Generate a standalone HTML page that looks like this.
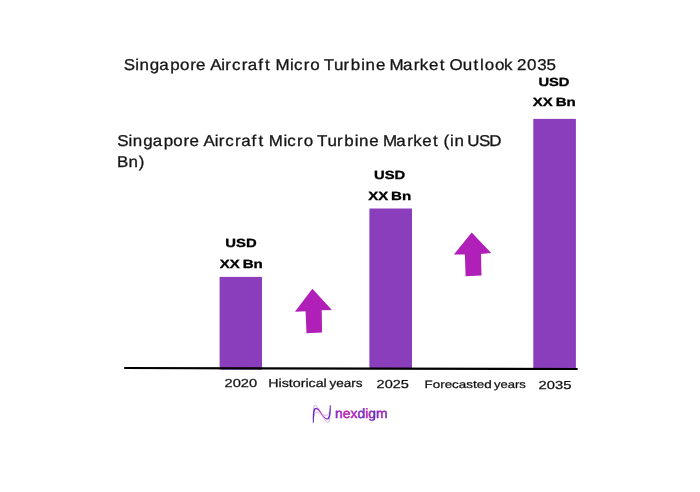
<!DOCTYPE html>
<html lang="en"><head><meta charset="utf-8"><title>Singapore Aircraft Micro Turbine Market Outlook 2035</title>
<style>
html,body{margin:0;padding:0;background:#fff;}
svg{display:block;font-family:"Liberation Sans",sans-serif;}
</style></head>
<body>
<svg width="700" height="492" viewBox="0 0 700 492" text-rendering="geometricPrecision">
<rect width="700" height="492" fill="#fff"/>
<text transform="scale(1.08,1)" x="114.57 125.13 129.15 138.75 147.56 157.64 166.63 176.05 181.54 184.54 194.63 204.90 208.65 214.79 223.74 229.46 239.04 245.38 248.38 255.00 268.61 272.20 281.15 287.28 290.28 299.75 309.24 318.09 324.81 334.58 338.41 348.11 351.11 360.65 373.12 383.09 388.75 397.19 407.14 410.14 416.23 428.45 438.44 444.44 448.86 458.25 466.76 469.76 478.78 488.08 497.56 506.08" y="70.0" font-size="15.7" font-weight="400" fill="#161616" stroke="#161616" stroke-width="0.3">Singapore Aircraft Micro Turbine Market Outlook 2035</text>
<text transform="scale(1.08,1)" x="108.46 119.02 123.04 132.64 141.45 151.53 160.52 169.94 175.43 178.43 188.52 198.79 202.54 208.68 217.63 223.35 232.93 239.27 242.27 248.89 262.50 266.09 275.04 281.17 284.17 293.64 303.13 311.98 318.70 328.47 332.30 342.00 345.00 354.53 367.01 376.98 382.64 391.08 401.03 404.03 410.62 416.62 420.72 423.72 432.69 443.55 453.11" y="146.2" font-size="15.7" font-weight="400" fill="#161616" stroke="#161616" stroke-width="0.3">Singapore Aircraft Micro Turbine Market (in USD</text>
<text transform="scale(1.08,1)" x="108.42 119.06 128.49" y="167.3" font-size="15.7" font-weight="400" fill="#161616" stroke="#161616" stroke-width="0.3">Bn)</text>
<text y="247" font-size="11.9" font-weight="700" fill="#000" stroke="#000" stroke-width="0.3"><tspan x="225.30" textLength="31.31" lengthAdjust="spacingAndGlyphs">USD</tspan></text><text y="268" font-size="11.9" font-weight="700" fill="#000" stroke="#000" stroke-width="0.3"><tspan x="219.80" textLength="19.97" lengthAdjust="spacingAndGlyphs">XX</tspan> <tspan x="242.71" textLength="20.12" lengthAdjust="spacingAndGlyphs">Bn</tspan></text><text y="179" font-size="11.9" font-weight="700" fill="#000" stroke="#000" stroke-width="0.3"><tspan x="374.01" textLength="31.21" lengthAdjust="spacingAndGlyphs">USD</tspan></text><text y="200" font-size="11.9" font-weight="700" fill="#000" stroke="#000" stroke-width="0.3"><tspan x="368.30" textLength="19.88" lengthAdjust="spacingAndGlyphs">XX</tspan> <tspan x="391.10" textLength="20.02" lengthAdjust="spacingAndGlyphs">Bn</tspan></text><text y="86" font-size="11.9" font-weight="700" fill="#000" stroke="#000" stroke-width="0.3"><tspan x="538.41" textLength="31.10" lengthAdjust="spacingAndGlyphs">USD</tspan></text><text y="106" font-size="11.9" font-weight="700" fill="#000" stroke="#000" stroke-width="0.3"><tspan x="532.80" textLength="19.93" lengthAdjust="spacingAndGlyphs">XX</tspan> <tspan x="555.66" textLength="20.07" lengthAdjust="spacingAndGlyphs">Bn</tspan></text>
<rect x="219.6" y="276.9" width="42.4" height="92.8" fill="#8a3ebb"/><rect x="369.4" y="208.5" width="42.6" height="159.9" fill="#8a3ebb"/><rect x="533.3" y="118.9" width="42.6" height="249.3" fill="#8a3ebb"/>
<line x1="124.2" y1="368" x2="577.6" y2="369" stroke="#000" stroke-width="2.2"/>
<polygon points="312.4,288.8 331.9,309.9 321.7,310.3 322.1,332.6 306.5,333.3 305.6,311.3 294.9,311.7" fill="#b01fb8"/><polygon points="471.7,232.4 491.2,253.1 481,253.9 481.5,275.5 465.6,276.2 464.9,254.6 453.9,254.6" fill="#b01fb8"/>
<text y="387" font-size="11.6" font-weight="400" fill="#111" stroke="#111" stroke-width="0.25"><tspan x="224.51" textLength="32.65" lengthAdjust="spacingAndGlyphs">2020</tspan></text><text y="387" font-size="11.6" font-weight="400" fill="#111" stroke="#111" stroke-width="0.25"><tspan x="268.29" textLength="58.45" lengthAdjust="spacingAndGlyphs">Historical</tspan> <tspan x="329.60" textLength="32.92" lengthAdjust="spacingAndGlyphs">years</tspan></text><text y="388" font-size="11.6" font-weight="400" fill="#111" stroke="#111" stroke-width="0.25"><tspan x="376.62" textLength="32.27" lengthAdjust="spacingAndGlyphs">2025</tspan></text><text y="388" font-size="10.8" font-weight="400" fill="#111" stroke="#111" stroke-width="0.25"><tspan x="424.55" textLength="67.10" lengthAdjust="spacingAndGlyphs">Forecasted</tspan> <tspan x="494.00" textLength="31.81" lengthAdjust="spacingAndGlyphs">years</tspan></text><text y="389" font-size="11.6" font-weight="400" fill="#111" stroke="#111" stroke-width="0.25"><tspan x="538.61" textLength="32.79" lengthAdjust="spacingAndGlyphs">2035</tspan></text>

<defs>
<linearGradient id="gt" x1="0" y1="0" x2="1" y2="0"><stop offset="0" stop-color="#8f2cc6"/><stop offset="0.22" stop-color="#c422b4"/><stop offset="0.40" stop-color="#a52cc0"/><stop offset="0.52" stop-color="#6c34c8"/><stop offset="0.62" stop-color="#c628b4"/><stop offset="0.75" stop-color="#5a34c8"/><stop offset="0.86" stop-color="#b428ba"/><stop offset="1" stop-color="#6a30c6"/></linearGradient>
<linearGradient id="gw" gradientUnits="userSpaceOnUse" x1="312" y1="0" x2="331" y2="0"><stop offset="0" stop-color="#5b2bc0"/><stop offset="0.55" stop-color="#c426c0"/><stop offset="1" stop-color="#5b2bc0"/></linearGradient>
<filter id="bl" x="-10%" y="-10%" width="120%" height="120%"><feGaussianBlur stdDeviation="0.3"/></filter>
<filter id="bl2" x="-20%" y="-20%" width="140%" height="140%"><feGaussianBlur stdDeviation="0.4"/></filter>
</defs>
<g fill="none" stroke="url(#gw)" stroke-linecap="round" filter="url(#bl2)">
<path d="M313.65,422.60 L313.73,421.26 L313.82,420.00 L313.91,418.82 L314.00,417.72 L314.08,416.69 L314.15,415.73 L314.22,414.84 L314.31,414.03 L314.39,413.28 L314.49,412.60 L314.60,411.99 L314.71,411.44 L314.83,410.97 L314.96,410.55 L315.09,410.20 L315.22,409.92 L315.36,409.70 L315.47,409.53 L315.57,409.41 L315.67,409.33 L315.76,409.27 L315.87,409.24 L315.97,409.22 L316.37,409.24 L316.76,409.34 L317.17,409.54 L317.61,409.83 L318.07,410.20 L318.54,410.64 L319.03,411.14 L319.51,411.70 L320.01,412.29 L320.50,412.92 L321.00,413.56 L321.50,414.21 L321.96,414.90 L322.41,415.57 L322.86,416.23 L323.33,416.85 L323.81,417.43 L324.30,417.97 L324.81,418.45 L325.34,418.87 L325.92,419.20 L326.54,419.43 L327.18,419.54 L327.65,419.51 L328.08,419.38 L328.47,419.17 L328.82,418.88 L329.13,418.54 L329.38,418.14 L329.60,417.68 L329.79,417.19 L329.95,416.66 L330.10,416.09 L330.22,415.47 L330.34,414.82 L330.43,414.14 L330.52,413.41 L330.59,412.66 L330.63,411.87 L330.66,411.05 L330.68,410.20 L330.70,409.32 L330.70,408.43 L330.69,407.51 L330.67,406.56 L330.65,405.61 L329.95,405.59 L329.90,406.55 L329.84,407.48 L329.77,408.39 L329.70,409.28 L329.62,410.14 L329.53,410.97 L329.43,411.76 L329.33,412.53 L329.23,413.25 L329.13,413.94 L329.01,414.59 L328.88,415.19 L328.74,415.74 L328.59,416.25 L328.43,416.69 L328.26,417.08 L328.08,417.41 L327.92,417.68 L327.77,417.89 L327.63,418.05 L327.50,418.16 L327.36,418.22 L327.22,418.26 L326.78,418.25 L326.34,418.15 L325.88,417.96 L325.40,417.68 L324.91,417.31 L324.43,416.86 L323.94,416.34 L323.46,415.77 L322.97,415.16 L322.48,414.53 L322.01,413.86 L321.59,413.16 L321.16,412.46 L320.73,411.77 L320.29,411.10 L319.85,410.47 L319.39,409.87 L318.91,409.32 L318.40,408.84 L317.86,408.43 L317.29,408.10 L316.66,407.88 L316.03,407.78 L315.63,407.80 L315.26,407.89 L314.91,408.04 L314.59,408.26 L314.30,408.54 L314.05,408.86 L313.85,409.23 L313.68,409.64 L313.52,410.10 L313.39,410.60 L313.27,411.15 L313.17,411.75 L313.08,412.41 L313.01,413.12 L312.94,413.90 L312.89,414.74 L312.85,415.65 L312.81,416.63 L312.80,417.67 L312.82,418.79 L312.86,419.98 L312.90,421.25 L312.95,422.60Z" fill="url(#gw)" stroke="none"/>
<path d="M313.3,422.6 C313.2,410 313.6,405.2 314.9,405.2 C318.5,405.2 324,422.4 328.0,422.4 C330,422.4 330.2,413 330.3,405.6" stroke-width="0.5" opacity="0.7"/>
<path d="M313.3,422.6 C313.5,416 314.5,412.2 316.5,412.2 C319,412.2 322.5,415.4 325.9,415.4 C329,415.4 330.1,411 330.3,405.6" stroke-width="0.5" opacity="0.7"/>
</g>
<text y="418" font-size="13.5" font-weight="400" fill="url(#gt)" stroke="url(#gt)" stroke-width="0.55" stroke-linejoin="round" filter="url(#bl)"><tspan x="335.13" textLength="52.49" lengthAdjust="spacingAndGlyphs">nexdigm</tspan></text>
</svg>
</body></html>
